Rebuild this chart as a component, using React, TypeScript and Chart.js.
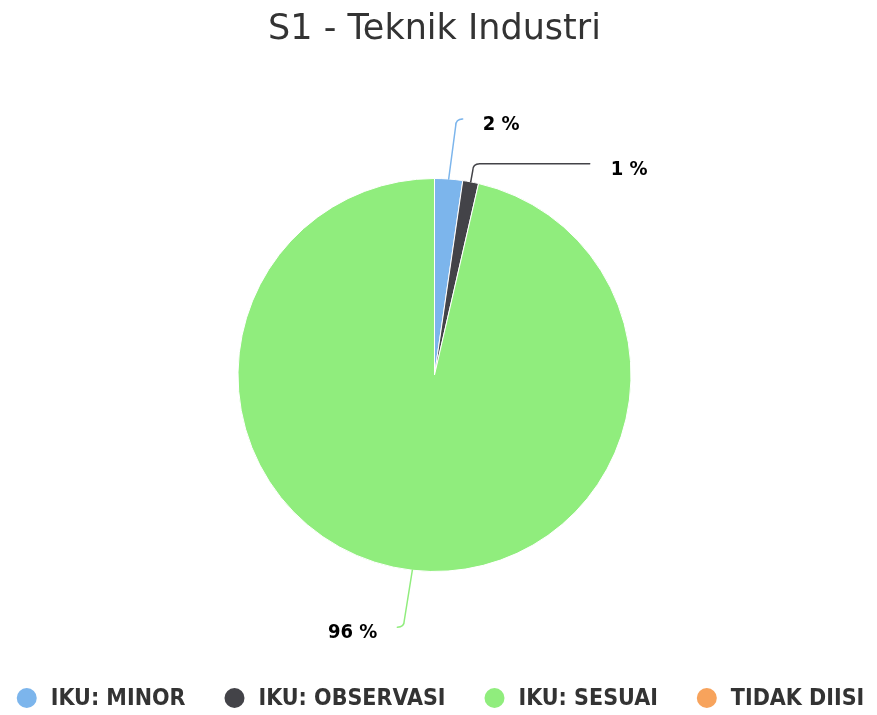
import React, { useEffect, useRef } from 'react';
import { Chart, registerables } from 'chart.js';

Chart.register(...registerables);

const titleText = 'S1 - Teknik Industri';
const categories = ['IKU: MINOR', 'IKU: OBSERVASI', 'IKU: SESUAI', 'TIDAK DIISI'];
const percentages = [2.3, 1.3, 96.4, 0];
const sliceColors = ['#7cb5ec', '#434348', '#90ed7d', '#f7a35c'];
// connector end offsets relative to each slice's outer mid point
const labelOffsets = [[13, -60], [119, -18], [-14, 57], [0, 0]];

const LABEL_FONT = 'bold 20px "DejaVu Sans Condensed", "DejaVu Sans", sans-serif';
const LEGEND_FONT = 'bold 23px "DejaVu Sans Condensed", "DejaVu Sans", sans-serif';

const pieLabels = {
  id: 'pieLabels',
  afterDatasetsDraw(chart: any) {
    const ctx = chart.ctx as CanvasRenderingContext2D;
    const meta = chart.getDatasetMeta(0);
    const data = chart.data.datasets[0].data as number[];
    const total = data.reduce((a, b) => a + b, 0);
    meta.data.forEach((arc: any, i: number) => {
      const v = data[i];
      if (!v) return;
      const { x, y, startAngle, endAngle, outerRadius } = arc.getProps(
        ['x', 'y', 'startAngle', 'endAngle', 'outerRadius'],
        true
      );
      const mid = (startAngle + endAngle) / 2;
      const ax = x + Math.cos(mid) * outerRadius;
      const ay = y + Math.sin(mid) * outerRadius;
      const [dx, dy] = labelOffsets[i];
      const ex = ax + dx;
      const ey = ay + dy;
      const sx = Math.sign(dx) || 1;
      const sy = Math.sign(dy) || 1;
      const cornerX = Math.abs(dx) < 25 ? ex - sx * 6 : ax + sx * 2;
      ctx.save();
      ctx.strokeStyle = sliceColors[i];
      ctx.lineWidth = 1.5;
      ctx.lineCap = 'round';
      ctx.lineJoin = 'round';
      ctx.beginPath();
      ctx.moveTo(ax, ay);
      ctx.lineTo(cornerX, ey - sy * 7);
      ctx.quadraticCurveTo(cornerX, ey, cornerX + sx * 7, ey);
      ctx.lineTo(ex, ey);
      ctx.stroke();
      ctx.font = LABEL_FONT;
      ctx.fillStyle = '#000000';
      ctx.textAlign = sx > 0 ? 'left' : 'right';
      ctx.textBaseline = 'middle';
      ctx.fillText(Math.round((v / total) * 100) + ' %', ex + sx * 21, ey + 6);
      ctx.restore();
    });
  },
};

const customLegend = {
  id: 'customLegend',
  afterDraw(chart: any) {
    const ctx = chart.ctx as CanvasRenderingContext2D;
    ctx.save();
    ctx.font = LEGEND_FONT;
    const widths = categories.map((c) => ctx.measureText(c).width);
    const symW = 34;
    const gap = 39;
    const total = widths.reduce((a, w) => a + symW + w, 0) + gap * (categories.length - 1);
    let x = (chart.width - total) / 2 + 2;
    const y = chart.height - 17;
    ctx.textBaseline = 'middle';
    ctx.textAlign = 'left';
    categories.forEach((c, i) => {
      ctx.fillStyle = sliceColors[i];
      ctx.beginPath();
      ctx.arc(x + 10, y, 10, 0, Math.PI * 2);
      ctx.fill();
      ctx.fillStyle = '#333333';
      ctx.fillText(c, x + symW, y + 1);
      x += symW + widths[i] + gap;
    });
    ctx.restore();
  },
};

export default function App() {
  const canvasRef = useRef<HTMLCanvasElement | null>(null);

  useEffect(() => {
    document.body.style.margin = '0';
    const canvas = canvasRef.current;
    if (!canvas) return;
    const chart = new Chart(canvas, {
      type: 'pie',
      data: {
        labels: categories,
        datasets: [
          {
            data: percentages,
            backgroundColor: sliceColors,
            borderColor: '#ffffff',
            borderWidth: 1,
          },
        ],
      },
      options: {
        animation: false,
        responsive: true,
        maintainAspectRatio: false,
        events: [],
        layout: { padding: { top: 0, bottom: 143, left: 0, right: 8 } },
        plugins: {
          legend: { display: false },
          tooltip: { enabled: false },
          title: {
            display: true,
            text: titleText,
            color: '#333333',
            font: { family: '"DejaVu Sans", sans-serif', size: 35, weight: 'normal', lineHeight: 1.2 },
            padding: { top: 9, bottom: 127 },
          },
        },
      },
      plugins: [pieLabels, customLegend],
    });
    return () => chart.destroy();
  }, []);

  return (
    <div style={{ position: 'relative', width: '877px', height: '715px' }}>
      <canvas ref={canvasRef} />
    </div>
  );
}
